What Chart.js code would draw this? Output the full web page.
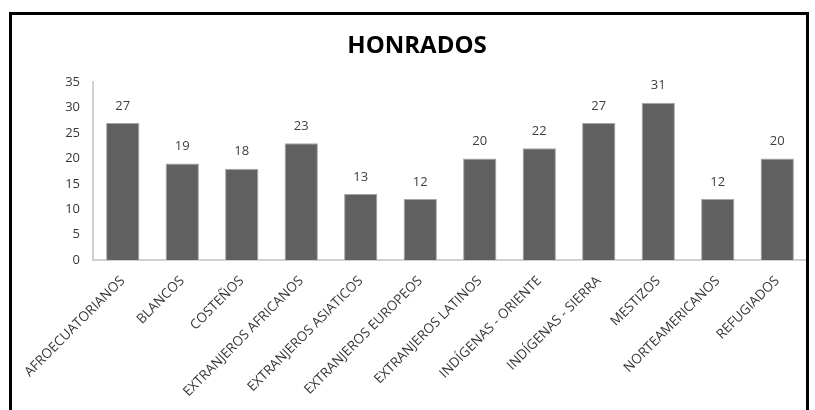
<!DOCTYPE html>
<html>
<head>
<meta charset="utf-8">
<script src="https://cdn.jsdelivr.net/npm/chart.js@4"></script>
<style>
  html, body { margin: 0; padding: 0; background: #fff; }
  #wrap { position: relative; width: 815px; height: 410px; overflow: hidden; }
  #frame { position: absolute; left: 9px; top: 12px; width: 800px; height: 420px; border: 3px solid #000; box-sizing: border-box; pointer-events: none; }
  canvas { position: absolute; left: 0; top: 0; }
</style>
</head>
<body>
<div id="wrap">
  <canvas id="c" width="815" height="410"></canvas>
  <div id="frame"></div>
</div>
<script>
const categories = [
  "AFROECUATORIANOS", "BLANCOS", "COSTEÑOS", "EXTRANJEROS AFRICANOS",
  "EXTRANJEROS ASIATICOS", "EXTRANJEROS EUROPEOS", "EXTRANJEROS LATINOS",
  "INDÍGENAS - ORIENTE", "INDÍGENAS - SIERRA", "MESTIZOS",
  "NORTEAMERICANOS", "REFUGIADOS"
];
const values = [27, 19, 18, 23, 13, 12, 20, 22, 27, 31, 12, 20];
const yTicks = [0, 5, 10, 15, 20, 25, 30, 35];
const chartTitle = "HONRADOS";

const FONT = "'Open Sans', sans-serif";

const labelPlugin = {
  id: 'barLabels',
  afterDatasetsDraw(chart) {
    const ctx = chart.ctx;
    const meta = chart.getDatasetMeta(0);
    ctx.save();
    ctx.font = "13px " + FONT;
    ctx.fillStyle = "#404040";
    ctx.textAlign = "center";
    ctx.textBaseline = "middle";
    meta.data.forEach((bar, i) => {
      ctx.fillText(String(chart.data.datasets[0].data[i]), bar.x, bar.y - 17);
    });
    // title, centred as in the reference
    ctx.font = "bold 24px " + FONT;
    ctx.fillStyle = "#000";
    ctx.textBaseline = "middle";
    ctx.fillText(chartTitle, 417, 46);
    ctx.restore();
  }
};

new Chart(document.getElementById('c'), {
  type: 'bar',
  data: {
    labels: categories,
    datasets: [{
      data: values,
      backgroundColor: '#606060',
      borderColor: '#a6a6a6',
      borderWidth: 1,
      categoryPercentage: 0.56,
      barPercentage: 1.0
    }]
  },
  options: {
    responsive: false,
    animation: false,
    layout: { padding: { left: 0, right: 8, top: 0, bottom: 0 } },
    plugins: {
      legend: { display: false },
      tooltip: { enabled: false },
      title: {
        display: true,
        text: chartTitle,
        color: 'rgba(0,0,0,0)',
        font: { family: FONT, size: 22, weight: 'bold' },
        padding: { top: 35, bottom: 21 }
      }
    },
    scales: {
      x: {
        grid: { display: false, drawTicks: false },
        border: { color: '#d0d0d0', width: 2 },
        ticks: {
          color: '#383838',
          font: { family: FONT, size: 13.5 },
          maxRotation: 45, minRotation: 45,
          autoSkip: false,
          padding: 13
        },
        afterFit(scale) { scale.height = 150; }
      },
      y: {
        min: 0, max: 35,
        grid: { display: false, drawTicks: false },
        border: { color: '#d0d0d0', width: 2 },
        afterBuildTicks(scale) { scale.ticks = yTicks.map(v => ({ value: v })); },
        ticks: {
          color: '#383838',
          font: { family: FONT, size: 13 },
          padding: 13
        },
        afterFit(scale) { scale.width = 93; }
      }
    }
  },
  plugins: [labelPlugin]
});
</script>
</body>
</html>
